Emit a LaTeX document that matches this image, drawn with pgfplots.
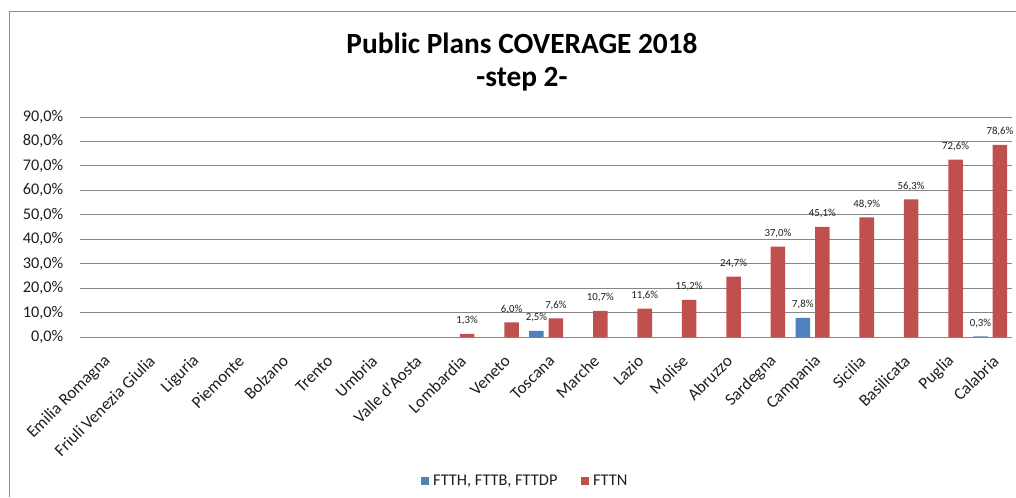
\documentclass[border=0pt]{standalone}
\usepackage{fontspec}
\setmainfont{Carlito}
\usepackage{pgfplots}
\pgfplotsset{compat=1.18}
\definecolor{cblue}{HTML}{4F81BD}
\definecolor{cred}{HTML}{C0504D}
\definecolor{gridc}{RGB}{134,134,134}
\definecolor{framec}{RGB}{140,140,140}
\definecolor{txt}{RGB}{30,30,30}
\begin{document}
\begin{tikzpicture}
\useasboundingbox (0pt,0pt) rectangle (762pt,372.75pt);
\draw[framec, line width=1.1pt] (6.975pt,0pt) -- (6.975pt,363.975pt) -- (762pt,363.975pt);
\node[anchor=base, font=\fontsize{22}{26}\selectfont\bfseries, text=black] at (391.5pt,332.8pt) {Public Plans COVERAGE 2018};
\node[anchor=base, font=\fontsize{22}{26}\selectfont\bfseries, text=black] at (391.5pt,307.5pt) {-step 2-};
\begin{axis}[
  at={(60pt,120pt)}, anchor=south west,
  scale only axis, width=699.3pt, height=165pt,
  xmin=-0.5, xmax=20.5, ymin=0, ymax=90,
  ybar, bar width=10.9pt,
  clip=false,
  axis line style={draw=none},
  major tick length=0pt,
  ymajorgrids, grid style={gridc, line width=0.75pt},
  ytick={0,10,...,90},
  yticklabels={{0,0\%},{10,0\%},{20,0\%},{30,0\%},{40,0\%},{50,0\%},{60,0\%},{70,0\%},{80,0\%},{90,0\%}},
  yticklabel style={font=\fontsize{12.2}{14}\selectfont, text=txt, xshift=-9pt},
  xtick={0,...,20},
  xticklabels={Emilia Romagna,Friuli Venezia Giulia,Liguria,Piemonte,Bolzano,Trento,Umbria,Valle d\textquotesingle Aosta,Lombardia,Veneto,Toscana,Marche,Lazio,Molise,Abruzzo,Sardegna,Campania,Sicilia,Basilicata,Puglia,Calabria},
  xticklabel style={font=\fontsize{12.7}{14}\selectfont, text=txt, rotate=45, anchor=east, inner sep=0pt, xshift=-8.1pt, yshift=-14.2pt},
  /pgf/number format/assume math mode=true,
  nodes near coords={\pgfmathprintnumber[fixed,fixed zerofill,precision=1,use comma]{\pgfplotspointmeta}\%},
  every node near coord/.append style={font=\fontsize{8.1}{9}\selectfont, text=txt, yshift=3pt},
  legend image code/.code={\fill[#1] (0pt,-3pt) rectangle (6pt,3pt);},
  legend style={at={(0.3654,-0.6545)}, anchor=west, draw=none, fill=none, inner sep=0pt,
    legend columns=2, font=\fontsize{12.3}{14}\selectfont, text=txt,
    nodes={inner sep=0pt},
    /tikz/every odd column/.append style={column sep=3.2pt},
    /tikz/every even column/.append style={column sep=17.5pt}},
]
\addplot[fill=cblue, draw=none, bar shift=-7.3pt] coordinates {(10,2.5) (16,7.8) (20,0.3)};
\addlegendentry{FTTH, FTTB, FTTDP}
\addplot[fill=cred, draw=none, bar shift=7.3pt] coordinates {(8,1.3) (9,6.0) (10,7.6) (11,10.7) (12,11.6) (13,15.2) (14,24.7) (15,37.0) (16,45.1) (17,48.9) (18,56.3) (19,72.6) (20,78.6)};
\addlegendentry{FTTN}
\end{axis}
\end{tikzpicture}
\end{document}
